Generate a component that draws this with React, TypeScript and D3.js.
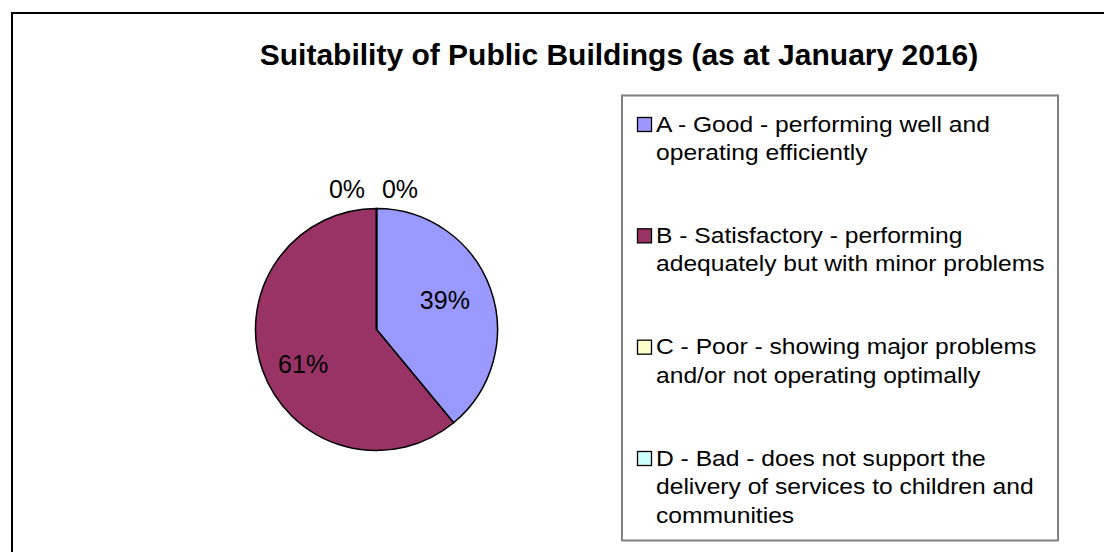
import React from "react";
import * as d3 from "d3";

const categories = ["A", "B", "C", "D"];
const values = [39, 61, 0, 0];
const colors = ["#9999FF", "#993366", "#FFFFCC", "#CCFFFF"];
const legendLines = [
  ["A - Good - performing well and", "operating efficiently"],
  ["B - Satisfactory - performing", "adequately but with minor problems"],
  ["C - Poor - showing major problems", "and/or not operating optimally"],
  ["D - Bad - does not support the", "delivery of services to children and", "communities"],
];
const title = "Suitability of Public Buildings (as at January 2016)";

const W = 1104;
const H = 552;
const FONT = "Arial, 'Liberation Sans', Helvetica, sans-serif";

export default function App() {
  const cx = 376.5;
  const cy = 329.5;
  const R = 121;
  const pie = d3.pie<number>().sort(null).value((d) => d);
  const arcs = pie(values);
  const arcGen = d3.arc<d3.PieArcDatum<number>>().innerRadius(0).outerRadius(R);
  const labelArc = d3.arc<d3.PieArcDatum<number>>().innerRadius(78).outerRadius(78);
  const outerArc = d3.arc<d3.PieArcDatum<number>>().innerRadius(R + 20).outerRadius(R + 20);
  const total = d3.sum(values);
  const nudgeX = [-5, 0, -29.5, 23.5];
  const nudgeY = [-3, 8, 0, 0];

  const legendX = 622;
  const legendY = 95.5;
  const legendW = 436;
  const legendH = 445;
  const entryY = d3.scalePoint<string>().domain(categories).range([131.5, 465.5]);
  const lineH = 28.5;

  return (
    <svg
      width={W}
      height={H}
      style={{ position: "absolute", left: 0, top: 0, background: "#fff" }}
      fontFamily={FONT}
    >
      <rect x={0} y={0} width={W} height={H} fill="#fff" />
      <rect x={12} y={13} width={W + 20} height={H + 20} fill="none" stroke="#000" strokeWidth={2} />
      <text x={619} y={65} textAnchor="middle" fontSize={30} fontWeight="bold" fill="#000">
        {title}
      </text>
      <g transform={`translate(${cx},${cy})`}>
        {arcs.map((a, i) => (
          <path key={i} d={arcGen(a) || ""} fill={colors[i]} stroke="#000" strokeWidth={1.5} />
        ))}
        {arcs.map((a, i) => {
          const pct = Math.round((a.data / total) * 100) + "%";
          const [x, y] = a.data > 0 ? labelArc.centroid(a) : outerArc.centroid(a);
          return (
            <text
              key={"l" + i}
              x={x + nudgeX[i]}
              y={y + 9 + nudgeY[i]}
              textAnchor="middle"
              fontSize={25}
              fill="#000"
            >
              {pct}
            </text>
          );
        })}
      </g>
      <rect x={legendX} y={legendY} width={legendW} height={legendH} fill="#fff" stroke="#808080" strokeWidth={2} />
      {categories.map((c, i) => {
        const y0 = entryY(c) as number;
        return (
          <g key={c}>
            <rect x={637.5} y={y0 - 14} width={14} height={14} fill={colors[i]} stroke="#000" strokeWidth={1.3} />
            {legendLines[i].map((ln, j) => (
              <text
                key={j}
                transform={`translate(656,${y0 + j * lineH}) scale(1.145,1)`}
                fontSize={21.5}
                fill="#000"
              >
                {ln}
              </text>
            ))}
          </g>
        );
      })}
    </svg>
  );
}
